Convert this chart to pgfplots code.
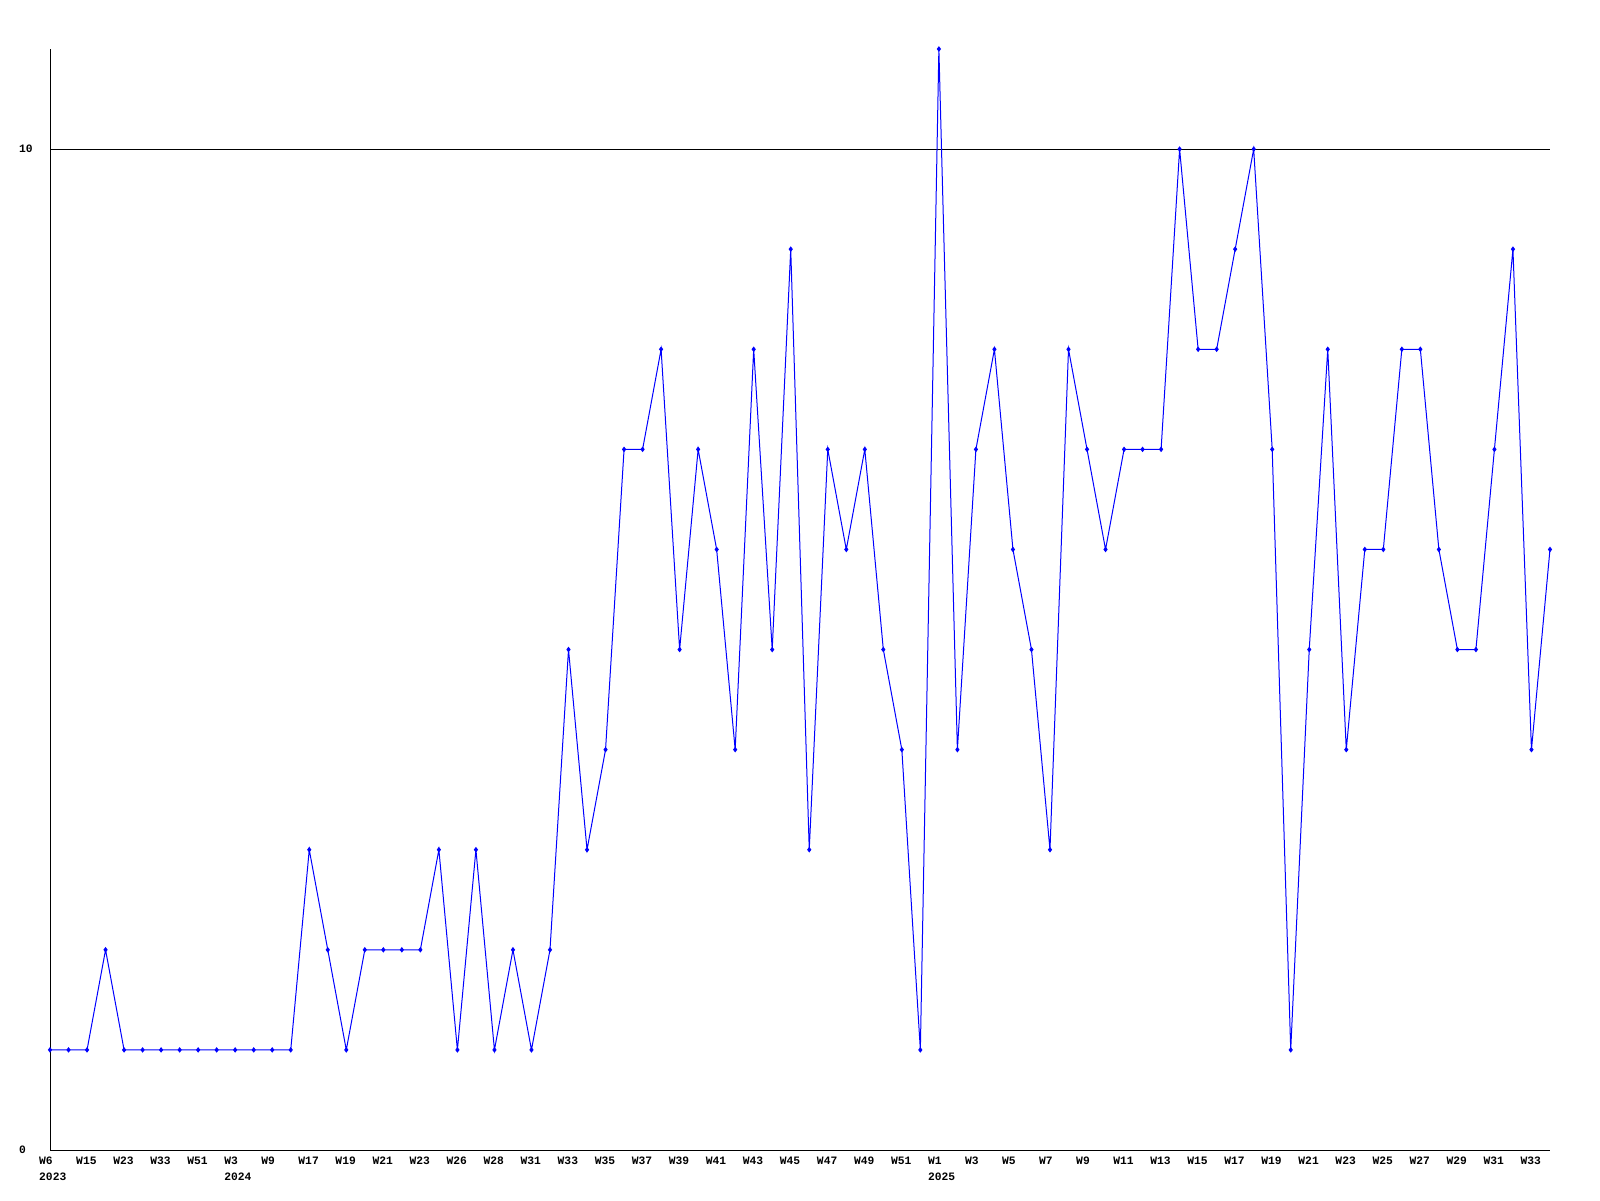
\documentclass[border=0pt]{standalone}
\usepackage{pgfplots}
\pgfplotsset{compat=1.18}
\usepackage{fontspec}
\setmainfont{Liberation Mono}
\pgfplotstableread{
x y
0 1
1 1
2 1
3 2
4 1
5 1
6 1
7 1
8 1
9 1
10 1
11 1
12 1
13 1
14 3
15 2
16 1
17 2
18 2
19 2
20 2
21 3
22 1
23 3
24 1
25 2
26 1
27 2
28 5
29 3
30 4
31 7
32 7
33 8
34 5
35 7
36 6
37 4
38 8
39 5
40 9
41 3
42 7
43 6
44 7
45 5
46 4
47 1
48 11
49 4
50 7
51 8
52 6
53 5
54 3
55 8
56 7
57 6
58 7
59 7
60 7
61 10
62 8
63 8
64 9
65 10
66 7
67 1
68 5
69 8
70 4
71 6
72 6
73 8
74 8
75 6
76 5
77 5
78 7
79 9
80 4
81 6
}\datatable
\begin{document}
\begin{tikzpicture}
\path[use as bounding box] (0,0) rectangle (1600pt,1200pt);
\begin{axis}[
  at={(50pt,50pt)}, anchor=south west, scale only axis,
  width=1500pt, height=1101pt,
  xmin=0, xmax=81, ymin=0, ymax=11,
  axis x line=bottom, axis y line=left,
  axis line style={-, black, line width=1pt},
  ytick={0,10}, yticklabels={0,10},
  ymajorgrids, grid style={black, line width=1pt},
  major tick length=0pt,
  xtick={0,2,...,80},
  xticklabels={{W6\\2023},W15,W23,W33,W51,{W3\\2024},W9,W17,W19,W21,W23,W26,W28,W31,W33,W35,W37,W39,W41,W43,W45,W47,W49,W51,{W1\\2025},W3,W5,W7,W9,W11,W13,W15,W17,W19,W21,W23,W25,W27,W29,W31,W33},
  xticklabel style={anchor=north west, align=left, inner sep=0pt, xshift=-11pt, yshift=-7pt, font=\fontsize{11.3}{16}\selectfont\bfseries},
  yticklabel style={anchor=west, inner sep=0pt, xshift=-31pt, font=\fontsize{11.3}{16}\selectfont\bfseries},
  clip=false,
]
\addplot[color={rgb,255:red,0;green,0;blue,255}, line width=1pt, mark=diamond*, mark size=2pt, mark options={fill={rgb,255:red,0;green,0;blue,255}}] table[x=x,y=y] {\datatable};
\end{axis}
\end{tikzpicture}
\end{document}
